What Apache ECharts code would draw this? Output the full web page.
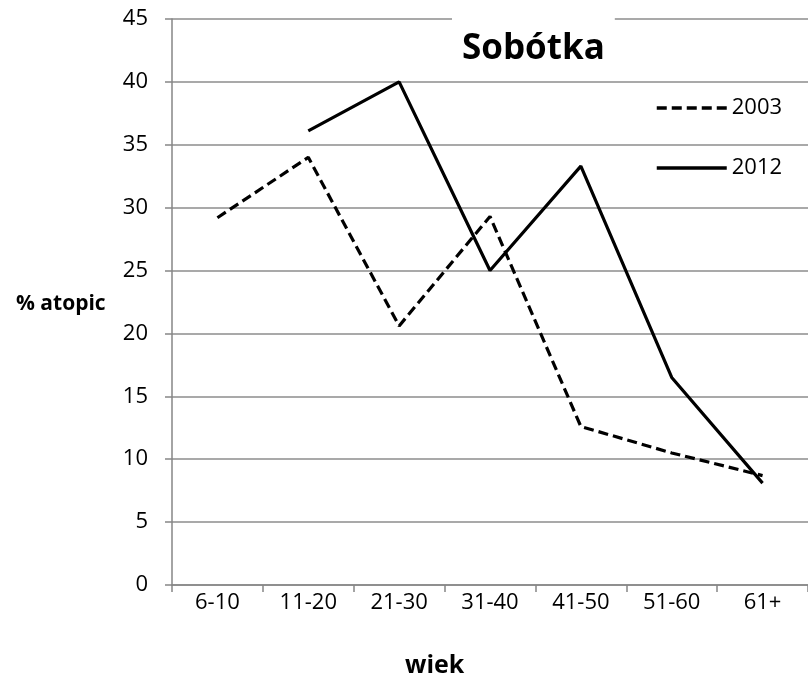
<!DOCTYPE html>
<html><head><meta charset="utf-8">
<script src="https://cdn.jsdelivr.net/npm/echarts@6/dist/echarts.min.js"></script>
<style>html,body{margin:0;padding:0;background:#fff}#c{width:808px;height:677px}</style>
</head><body><div id="c"></div>
<script>
const categories = ['6-10','11-20','21-30','31-40','41-50','51-60','61+'];
const s2003 = [29.2, 34.0, 20.6, 29.3, 12.6, 10.5, 8.7];
const s2012 = [null, 36.1, 40.0, 25.0, 33.3, 16.5, 8.1];
const yTicks = [0,5,10,15,20,25,30,35,40,45];
const FONT = 'Open Sans';
const chart = echarts.init(document.getElementById('c'));
chart.setOption({
  backgroundColor: '#fff',
  animation: false,
  textStyle: {fontFamily: FONT},
  title: {
    text: 'Sobótka', left: 452, top: 10,
    padding: [22, 10, 6, 10],
    backgroundColor: '#fff',
    textStyle: {fontFamily: FONT, fontSize: 35, fontWeight: 'bold', color: '#000'}
  },
  legend: {
    orient: 'vertical', left: 650, top: 92, itemGap: 38,
    itemWidth: 70, itemHeight: 20,
    itemStyle: {opacity: 0},
    lineStyle: {width: 3.5},
    textStyle: {fontFamily: FONT, fontSize: 22, color: '#000'},
    data: ['2003','2012']
  },
  grid: {left: 172, top: 19, width: 643, height: 566},
  xAxis: {
    type: 'category', data: categories, boundaryGap: true,
    axisLine: {lineStyle: {color: '#868686', width: 1.5}},
    axisTick: {show: true, length: 7, lineStyle: {color: '#868686', width: 1.5}},
    axisLabel: {fontFamily: FONT, fontSize: 22, color: '#000', margin: 7}
  },
  yAxis: {
    type: 'value', min: yTicks[0], max: yTicks[yTicks.length-1], interval: 5,
    axisLine: {show: true, lineStyle: {color: '#868686', width: 1.5}},
    axisTick: {show: true, length: 7, lineStyle: {color: '#868686', width: 1.5}},
    splitLine: {lineStyle: {color: '#8c8c8c', width: 1.5}},
    axisLabel: {fontFamily: FONT, fontSize: 22, color: '#000', margin: 24}
  },
  graphic: [
    {type: 'text', left: 16, top: 294, style: {text: '% atopic', fontFamily: FONT, fontSize: 21, fontWeight: 'bold', fill: '#000'}},
    {type: 'text', left: 405, top: 653, style: {text: 'wiek', fontFamily: FONT, fontSize: 25, fontWeight: 'bold', fill: '#000'}}
  ],
  series: [
    {name: '2003', type: 'line', data: s2003, symbol: 'none', connectNulls: false,
     lineStyle: {color: '#000', width: 3.2, type: [10, 5]}, itemStyle: {color: '#000'}},
    {name: '2012', type: 'line', data: s2012, symbol: 'none', connectNulls: false,
     lineStyle: {color: '#000', width: 3.2, type: 'solid'}, itemStyle: {color: '#000'}}
  ]
});
</script></body></html>
